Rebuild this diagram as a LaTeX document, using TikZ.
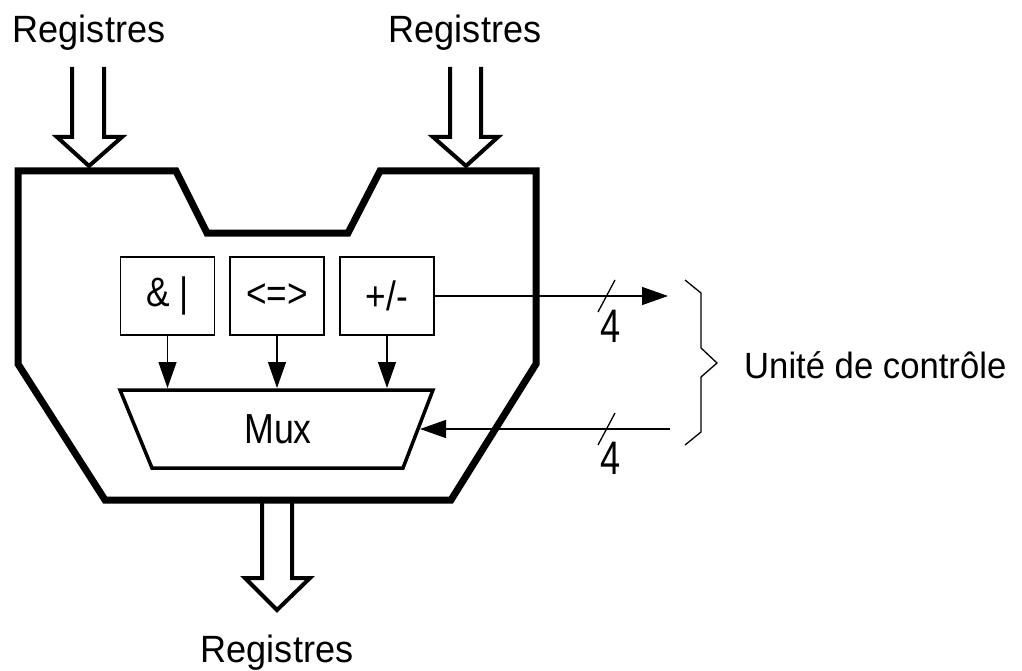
\documentclass[tikz,border=0pt]{standalone}
\usepackage{fontspec}
\usepackage{graphicx}
\setmainfont{Liberation Sans}
\usetikzlibrary{arrows.meta}
\newcommand\lblfont{\fontsize{38pt}{42pt}\selectfont}
\newcommand\ctrlfont{\fontsize{36.5pt}{40pt}\selectfont}
\newcommand\unitfont{\fontsize{41pt}{45pt}\selectfont}
\newcommand\muxfont{\fontsize{42pt}{46pt}\selectfont}
\newcommand\busfont{\fontsize{47pt}{50pt}\selectfont}
\newcommand\sx[2]{\scalebox{#1}[1]{#2}}
\tikzset{
  hull/.style={line width=7pt, line join=miter},
  bus/.style={line width=4pt, line join=miter},
  unit/.style={draw, line width=1.3pt, minimum width=94pt, minimum height=78pt, inner sep=0pt, font=\unitfont},
  muxbody/.style={line width=3.5pt, line join=miter},
  sig/.style={line width=1.3pt, -{Triangle[length=26pt,width=18pt]}},
  fine/.style={line width=1.3pt},
  lbl/.style={font=\lblfont, inner sep=0pt},
  buslbl/.style={font=\busfont, inner sep=0pt}
}
\begin{document}
\begin{tikzpicture}[x=1pt, y=-1pt]
\useasboundingbox (0,0) rectangle (1022,671);

% ALU body
\draw[hull] (18,171) -- (176,171) -- (207,233) -- (348,233) -- (380,171)
  -- (536,171) -- (536,364) -- (451,500) -- (105,500) -- (18,364) -- cycle;

% operand buses
\draw[bus] (72,67) -- (72,137) -- (57,137) -- (89,166) -- (122,137) -- (104,137) -- (104,67);
\draw[bus] (450,67) -- (450,137) -- (433,137) -- (466,166) -- (498,137) -- (481,137) -- (481,67);
% result bus
\draw[bus] (262,500) -- (262,578) -- (245,578) -- (277,610) -- (310,578) -- (292,578) -- (292,500);

% bus labels
\node[lbl, anchor=base] (regA) at (89,43) {\sx{0.95}{Registres}};
\node[lbl, anchor=base] (regB) at (465,43) {\sx{0.95}{Registres}};
\node[lbl, anchor=base] (regR) at (277,662) {\sx{0.95}{Registres}};

% operation units
\node[unit] (logic) at (167.5,296) {\sx{0.86}{\& |}};
\node[unit] (cmp) at (277,296) {\sx{0.86}{<=>}};
\node[unit] (add) at (387,296) {\sx{0.86}{+/-}};

% multiplexer
\draw[muxbody] (120,390) -- (433,390) -- (403,468) -- (152,468) -- cycle;
\node[font=\muxfont, inner sep=0pt, anchor=base] (mux) at (278,443) {\sx{0.85}{Mux}};
\coordinate (muxtop) at (0,388);
\coordinate (muxright) at (420,429);

\draw[sig] (logic.south) -- (logic.south |- muxtop);
\draw[sig] (cmp.south) -- (cmp.south |- muxtop);
\draw[sig] (add.south) -- (add.south |- muxtop);

% flags out, selection in
\coordinate (flagsout) at (668,296);
\coordinate (selin) at (670,429);
\draw[sig] (add.east) -- (flagsout);
\draw[sig] (selin) -- (muxright);

% bus width marks
\draw[fine] (598,312) -- (615,280);
\draw[fine] (598,445) -- (615,413);
\node[buslbl, anchor=base] (w1) at (611,342) {\sx{0.77}{4}};
\node[buslbl, anchor=base] (w2) at (611,474) {\sx{0.77}{4}};

% control unit brace
\draw[fine] (685,280) -- (701,293) -- (701,348) -- (717,363) -- (701,377) -- (701,432) -- (685,445);
\node[font=\ctrlfont, inner sep=0pt, anchor=base west] (ctrl) at (744,378) {\sx{0.95}{Unité de contrôle}};
\end{tikzpicture}
\end{document}
